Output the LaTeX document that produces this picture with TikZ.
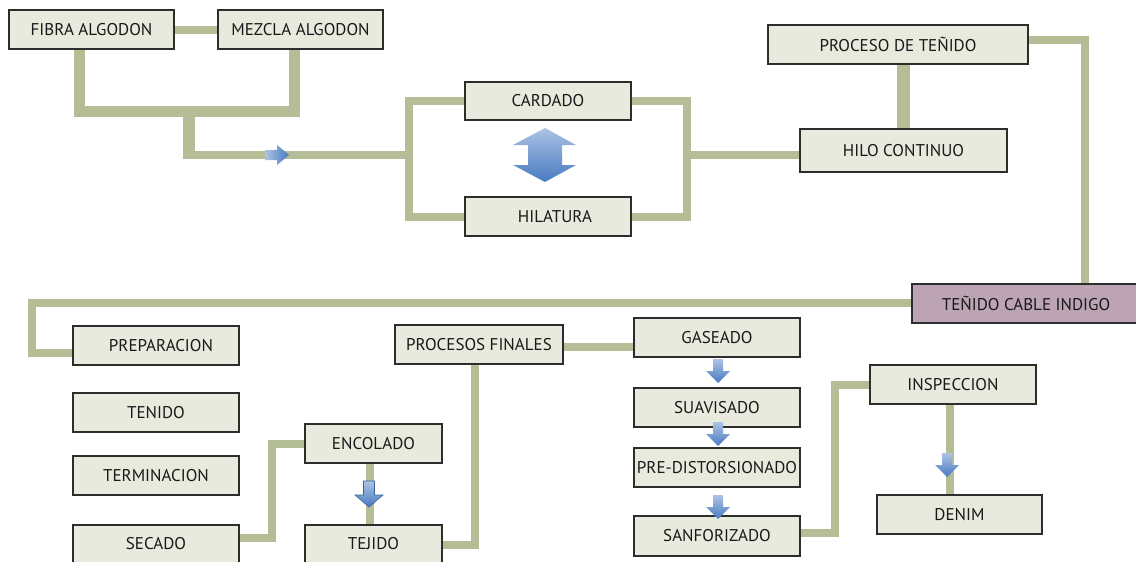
\documentclass[tikz,border=0pt]{standalone}
\usepackage{fontspec}
\setmainfont{PT Sans}
\definecolor{conncol}{RGB}{180,189,150}
\definecolor{boxfill}{RGB}{233,234,222}
\definecolor{boxline}{RGB}{45,45,45}
\definecolor{mauve}{RGB}{188,164,181}
\definecolor{arrLight}{RGB}{172,195,228}
\definecolor{arrDark}{RGB}{72,122,194}
\definecolor{txt}{RGB}{25,25,25}
\newcommand\bluedown[6]{%
  \shade[top color=arrLight, bottom color=arrDark,#6]
  (#1-#4/2,#2) -- (#1+#4/2,#2) -- (#1+#4/2,#2+#5) -- (#1+#3/2,#2+#5) -- (#1,#2+#5+12) -- (#1-#3/2,#2+#5) -- (#1-#4/2,#2+#5) -- cycle;}
\begin{document}
\begin{tikzpicture}[x=1pt,y=-1pt,
  box/.style={draw=boxline, fill=boxfill, line width=1.4pt, inner sep=0pt,
    font=\fontsize{17}{20}\selectfont, text=txt},
  sz/.style n args={2}{minimum width=#1pt, minimum height=#2pt},
  conn/.style={draw=conncol, line width=8pt, line join=miter},
  thick conn/.style={conn, line width=11pt}
]
\useasboundingbox (0,0) rectangle (1136,562);

% boxes
\node[box, sz={165}{39}] (fibra) at (91.5,29.5) {FIBRA ALGODON};
\node[box, sz={165}{39}] (mezcla) at (300.5,29.5) {MEZCLA ALGODON};
\node[box, sz={166}{38}] (cardado) at (548,101) {CARDADO};
\node[box, sz={166}{39}] (hilatura) at (548,216.5) {\hspace*{14pt}HILATURA};
\node[box, sz={207}{43}] (hilo) at (903.5,150.5) {HILO CONTINUO};
\node[box, sz={260}{39}] (proceso) at (898,44.5) {PROCESO DE TEÑIDO};
\node[box, sz={228}{39}, fill=mauve] (cable) at (1026,303.5) {TEÑIDO CABLE INDIGO};
\node[box, sz={166}{39}] (prep) at (156,345.5) {\hspace*{10pt}PREPARACION};
\node[box, sz={166}{39}] (tenido) at (156,412.5) {TENIDO};
\node[box, sz={166}{39}] (termin) at (156,475.5) {TERMINACION};
\node[box, sz={166}{38}] (secado) at (156,544) {SECADO};
\node[box, sz={137}{39}] (encolado) at (373.5,443.5) {ENCOLADO};
\node[box, sz={137}{38}] (tejido) at (373.5,544) {TEJIDO};
\node[box, sz={168}{39}] (pf) at (479,344.5) {PROCESOS FINALES};
\node[box, sz={166}{39}] (gaseado) at (717,337.5) {GASEADO};
\node[box, sz={166}{39}] (suav) at (717,407.5) {SUAVISADO};
\node[box, sz={166}{39}] (predist) at (717,467.5) {PRE-DISTORSIONADO};
\node[box, sz={166}{40}] (sanf) at (717,536) {SANFORIZADO};
\node[box, sz={166}{39}] (insp) at (953,384.5) {INSPECCION};
\node[box, sz={165}{39}] (denim) at (959.5,514.5) {DENIM};

% junction coordinates
\coordinate (jf) at (79,111);
\coordinate (jm) at (294,111);
\coordinate (jd) at (189,111);
\coordinate (jd2) at (189,159);
\coordinate (bl) at (409,155);
\coordinate (br) at (687,155);
\coordinate (jp) at (903,0);
\coordinate (jr) at (1085,40);
\coordinate (jc) at (32,303);
\coordinate (jprep) at (32,353);
\coordinate (jpf) at (0,347);
\coordinate (jpt) at (475,545);
\coordinate (js) at (272,538);
\coordinate (je) at (370,0);
\coordinate (jsf) at (835,533);
\coordinate (ji) at (950,0);

% connectors
\draw[conn] (fibra.east) -- (mezcla.west);
\draw[thick conn] (fibra.south -| jf) |- (jm) -- (mezcla.south -| jm);
\draw[thick conn, line width=12pt] (jd) -- (jd2);
\draw[conn] ([xshift=-6pt]jd |- bl) -- (bl);
\draw[conn] (cardado.west) -| (bl) |- (hilatura.west);
\draw[conn] (cardado.east) -| (br) |- (hilatura.east);
\draw[conn] (br) -- (hilo.west |- br);
\draw[conn, line width=13pt] (proceso.south -| jp) -- (hilo.north -| jp);
\draw[conn] (proceso.east |- jr) -| (cable.north -| jr);
\draw[conn] (cable.west |- jc) -| (jprep) -- (prep.west |- jprep);
\draw[conn] (pf.east |- jpf) -- (gaseado.west |- jpf);
\draw[conn] (pf.south -| jpt) |- (tejido.east |- jpt);
\draw[conn] (secado.east |- js) -| (js |- encolado.west) -- (encolado.west);
\draw[conn] (encolado.south -| je) -- (tejido.north -| je);
\draw[conn] (sanf.east |- jsf) -| (jsf |- insp.west) -- (insp.west);
\draw[conn] (insp.south -| ji) -- (denim.north -| ji);

% blue arrows
\shade[left color=arrLight, right color=arrDark]
  (265,150) -- (277,150) -- (277,145) -- (289,155) -- (277,165) -- (277,160) -- (265,160) -- cycle;
\shade[top color=arrLight, bottom color=arrDark]
  (545,128) -- (576,145) -- (562,145) -- (562,165) -- (576,165) -- (545,182)
  -- (513,165) -- (528,165) -- (528,145) -- (513,145) -- cycle;
\bluedown{718}{359}{24}{10}{12}{}
\bluedown{718}{422}{24}{10}{12}{}
\bluedown{718}{495}{24}{10}{12}{}
\bluedown{947}{453}{24}{10}{12}{}
\bluedown{369}{481}{28}{11}{14}{draw=arrDark!80!black, line width=0.6pt}
\end{tikzpicture}
\end{document}
